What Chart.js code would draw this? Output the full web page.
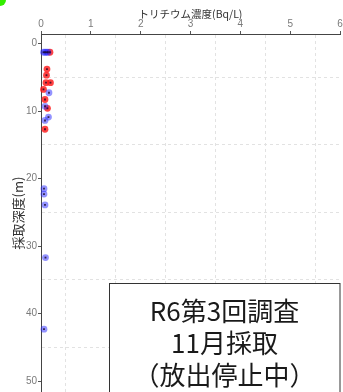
<!DOCTYPE html>
<html>
<head>
<meta charset="utf-8">
<script src="https://cdn.jsdelivr.net/npm/chart.js@4"></script>
<style>
  body { margin: 0; background: #fff; }
  #wrap { position: relative; width: 343px; height: 392px; }
</style>
</head>
<body>
<div id="wrap"><canvas id="depthChart"></canvas></div>
<script>
// トリチウム濃度 (Bq/L) と採取深度 (m)
var redConc  = [0.18, 0.12, 0.11, 0.10, 0.19, 0.05, 0.08, 0.13, 0.08];
var redDepth = [1.3,  3.8,  4.7,  5.8,  5.8,  6.8,  8.3,  9.6,  12.7];

var blueConc  = [0.05, 0.08, 0.11, 0.14, 0.16, 0.08, 0.15, 0.08, 0.06, 0.06, 0.08, 0.09, 0.06];
var blueDepth = [1.3,  1.3,  1.3,  1.3,  7.3,  9.3,  10.9, 11.4, 21.5, 22.3, 23.9, 31.7, 42.3];

var xTickLabels = [0, 1, 2, 3, 4, 5, 6];
var yTickLabels = [0, 10, 20, 30, 40, 50];
var noteLines = ['R6第3回調査', '11月採取', '（放出停止中）'];

function toPoints(xs, ys) {
  var pts = [];
  for (var i = 0; i < xs.length; i++) {
    pts.push({ x: xs[i], y: ys[i] });
  }
  return pts;
}

var redPts = toPoints(redConc, redDepth);
var bluePts = toPoints(blueConc, blueDepth);

// major ticks plus the dashed minor lines half way between them
function withHalves(labels) {
  var out = [];
  var step = labels[1] - labels[0];
  for (var i = 0; i < labels.length; i++) {
    out.push({ value: labels[i] });
    out.push({ value: labels[i] + step / 2, minor: true });
  }
  return out;
}

var notePlugin = {
  id: 'noteBox',
  afterDraw: function(chart) {
    var c = chart.ctx;
    c.save();
    c.fillStyle = '#ffffff';
    c.fillRect(109.5, 283.5, 230.5, 120);
    c.strokeStyle = '#333333';
    c.lineWidth = 1;
    c.strokeRect(109.5, 283.5, 230.5, 120);
    c.fillStyle = '#1a1a1a';
    c.font = '26px "Noto Sans CJK JP"';
    c.textAlign = 'center';
    c.textBaseline = 'middle';
    for (var i = 0; i < noteLines.length; i++) {
      c.fillText(noteLines[i], 224.5, 311 + i * 32);
    }
    // green marker in the corner
    c.fillStyle = '#33ee00';
    c.beginPath();
    c.arc(0, 0, 6, 0, Math.PI * 2);
    c.fill();
    c.restore();
  }
};

var ctx = document.getElementById('depthChart').getContext('2d');
var chart = new Chart(ctx, {
  type: 'scatter',
  data: {
    datasets: [
      {
        label: 'marks',
        data: redPts.concat(bluePts),
        pointStyle: 'rect',
        pointRadius: 1.3,
        backgroundColor: 'rgba(20,0,30,0.75)',
        borderWidth: 0,
        clip: false
      },
      {
        label: 'blue',
        data: bluePts,
        pointRadius: 3.4,
        backgroundColor: 'rgba(40,40,255,0.5)',
        borderWidth: 0,
        clip: false
      },
      {
        label: 'red',
        data: redPts,
        pointRadius: 3.4,
        backgroundColor: 'rgba(255,20,20,0.8)',
        borderWidth: 0,
        clip: false
      }
    ]
  },
  plugins: [notePlugin],
  options: {
    responsive: true,
    maintainAspectRatio: false,
    animation: false,
    layout: { autoPadding: false, padding: { left: 0, right: 3, top: 0, bottom: 0 } },
    plugins: {
      legend: { display: false },
      tooltip: { enabled: false }
    },
    scales: {
      x: {
        type: 'linear',
        position: 'top',
        min: 0,
        max: 6,
        afterFit: function(scale) {
          scale.height = 34;
          scale.paddingLeft = 0;
          scale.paddingRight = 0;
        },
        afterBuildTicks: function(scale) {
          scale.ticks = withHalves(xTickLabels).filter(function(t) { return t.value <= 6; });
        },
        title: {
          display: true,
          text: 'トリチウム濃度(Bq/L)',
          color: '#333',
          font: { family: '"Noto Sans CJK JP"', size: 10.5 },
          padding: { top: 8, bottom: 0 }
        },
        ticks: {
          autoSkip: false,
          maxRotation: 0,
          padding: 1,
          color: '#7a7a7a',
          font: { family: '"Liberation Sans"', size: 10 },
          callback: function(v, i, ticks) {
            return ticks[i].minor ? '' : String(v);
          }
        },
        grid: {
          color: function(c) { return c.tick.minor ? '#e2e2e2' : 'rgba(0,0,0,0)'; },
          tickColor: function(c) { return c.tick.minor ? 'rgba(0,0,0,0)' : '#555'; },
          tickLength: 3,
          lineWidth: 1
        },
        border: { display: true, color: '#444', width: 1, dash: [3, 3] }
      },
      y: {
        type: 'linear',
        reverse: true,
        min: -1.4,
        max: 51.6,
        afterFit: function(scale) {
          scale.width = 41;
          scale.paddingTop = 0;
          scale.paddingBottom = 0;
        },
        afterBuildTicks: function(scale) {
          scale.ticks = withHalves(yTickLabels).filter(function(t) { return t.value <= 51; });
        },
        title: {
          display: true,
          text: '採取深度(m)',
          color: '#333',
          font: { family: '"Noto Sans CJK JP"', size: 13 },
          padding: { top: 10, bottom: 0 }
        },
        ticks: {
          autoSkip: false,
          padding: 1,
          color: '#7a7a7a',
          font: { family: '"Liberation Sans"', size: 10 },
          callback: function(v, i, ticks) {
            return ticks[i].minor ? '' : String(v);
          }
        },
        grid: {
          color: function(c) { return c.tick.minor ? '#e2e2e2' : 'rgba(0,0,0,0)'; },
          tickColor: function(c) { return c.tick.minor ? 'rgba(0,0,0,0)' : '#555'; },
          tickLength: 3,
          lineWidth: 1
        },
        border: { display: true, color: '#444', width: 1, dash: [3, 3] }
      }
    }
  }
});
</script>
</body>
</html>
